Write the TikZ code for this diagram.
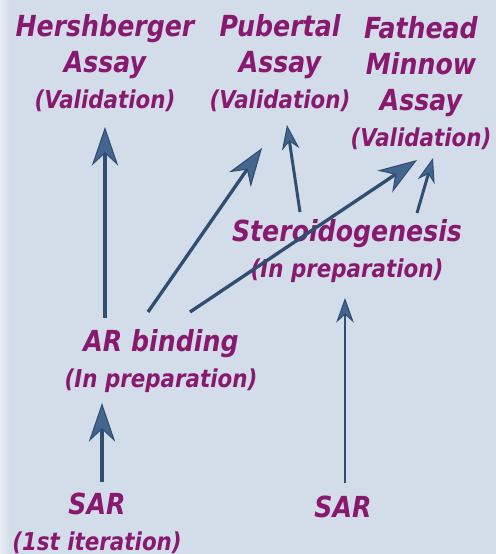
\documentclass[tikz,border=0pt]{standalone}
\usepackage{fontspec}
\setmainfont{DejaVu Sans}[FakeStretch=0.87]
\usetikzlibrary{calc, arrows.meta}
\definecolor{bgblue}{HTML}{D3DCE9}
\definecolor{bgedge}{HTML}{E8EDF4}
\definecolor{labelpurple}{HTML}{88196F}
\definecolor{arrowblue}{HTML}{2F4E72}
\definecolor{arrowlight}{HTML}{43658E}
\newcommand{\smalltxt}[1]{{\fontsize{14}{20.5}\selectfont #1}}

\begin{document}
\begin{tikzpicture}[
    x=0.02cm, y=-0.02cm,
    lbl/.style={labelpurple, font=\bfseries\itshape\fontsize{16.5}{20.5}\selectfont, align=center, inner sep=0pt},
    arr/.style={-{Stealth[length=22pt, width=15pt, inset=7pt, line width=0.6pt, fill=arrowlight]}, arrowblue, line width=1.9pt},
    arrsmall/.style={-{Stealth[length=14pt, width=10pt, inset=4.5pt, line width=0.6pt, fill=arrowlight]}, arrowblue, line width=1.7pt}
]

    % Background
    \fill[bgblue] (0,0) rectangle (496,554);
    \shade[left color=bgedge, right color=bgblue] (0,0) rectangle (10,554);
    \useasboundingbox (0,0) rectangle (496,554);

    % Assays (top row)
    \node[lbl] (hersh) at (105,63) {Hershberger\\Assay\\\smalltxt{(Validation)}};
    \node[lbl] (pub) at (280,63) {Pubertal\\Assay\\\smalltxt{(Validation)}};
    \node[lbl] (fat) at (421,83) {Fathead\\Minnow\\Assay\\\smalltxt{(Validation)}};

    % Middle
    \node[lbl] (ster) at (347,251) {Steroidogenesis\\\smalltxt{(In preparation)}};
    \node[lbl] (arb) at (161,361) {AR binding\\\smalltxt{(In preparation)}};

    % Bottom
    \node[lbl] (sar1) at (97,523) {SAR\\\smalltxt{(1st iteration)}};
    \node[lbl] (sar2) at (343,507) {SAR};

    % Connections
    \draw[arr] ($(sar1)+(5,-41)$) -- ($(arb)+(-59,42)$);
    \draw[arrsmall] ($(sar2)+(2,-24)$) -- ($(ster)+(-2,47)$);
    \draw[arr] ($(arb)+(-56,-43)$) -- ($(hersh)+(0,64)$);
    \draw[arr] ($(arb)+(-13,-49)$) -- ($(pub)+(-18,85)$);
    \draw[arr] ($(arb)+(29,-49)$) -- ($(fat)+(-4,77)$);
    \draw[arrsmall] ($(ster)+(-47,-39)$) -- ($(pub)+(7,62)$);
    \draw[arrsmall] ($(ster)+(70,-38)$) -- ($(fat)+(12,75)$);

\end{tikzpicture}
\end{document}
